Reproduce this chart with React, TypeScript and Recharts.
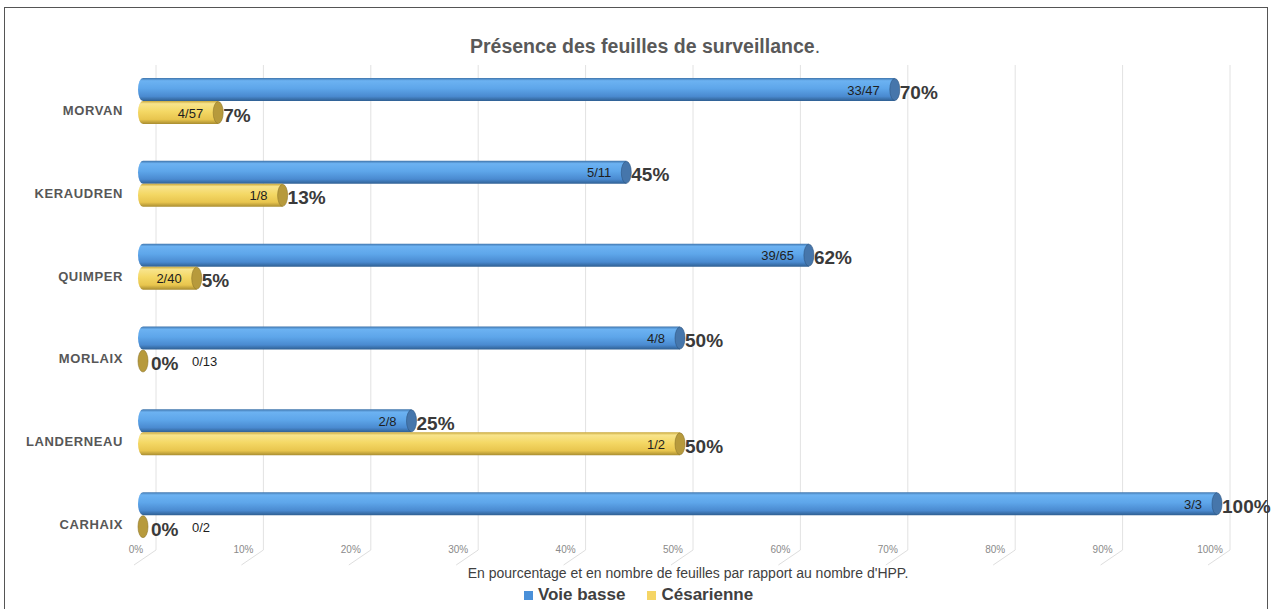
import React from 'react';
import { BarChart, Bar, XAxis, YAxis, CartesianGrid, LabelList } from 'recharts';

// categories + values
const categories = ['MORVAN', 'KERAUDREN', 'QUIMPER', 'MORLAIX', 'LANDERNEAU', 'CARHAIX'];
const voieBasse = [70, 45, 62, 50, 25, 100];
const cesarienne = [7, 13, 5, 0, 50, 0];
const voieBasseCounts = ['33/47', '5/11', '39/65', '4/8', '2/8', '3/3'];
const cesarienneCounts = ['4/57', '1/8', '2/40', '0/13', '1/2', '0/2'];
const xTicks = [0, 10, 20, 30, 40, 50, 60, 70, 80, 90, 100];

const data = categories.map((name, i) => ({
  name,
  vb: voieBasse[i],
  ces: cesarienne[i],
  vbN: voieBasseCounts[i],
  cesN: cesarienneCounts[i],
}));

const FONT = '"Liberation Sans", Arial, Helvetica, sans-serif';
const GRID_SHIFT = 13;

const box = (p: any) => {
  const v = p.viewBox && p.viewBox.width !== undefined ? p.viewBox : p;
  return { x: Number(v.x), y: Number(v.y), w: Number(v.width) || 0, h: Number(v.height) || 0 };
};

const CylinderBar: React.FC<any> = (props) => {
  const { x, y, width, height, gradId, capFill, capStroke } = props;
  const w = Math.max(0, width || 0);
  const ry = height / 2;
  const rx = 5;
  return (
    <g>
      {w > 0 && (
        <path
          d={`M${x},${y} H${x + w} V${y + height} H${x} A${rx},${ry} 0 0 1 ${x},${y} Z`}
          fill={`url(#${gradId})`}
        />
      )}
      <ellipse cx={x + w} cy={y + ry} rx={rx} ry={ry - 0.5} fill={capFill} stroke={capStroke} strokeWidth={0.6} />
    </g>
  );
};

const PctLabel: React.FC<any> = (props) => {
  const { x, y, w, h } = box(props);
  return (
    <text x={x + w + (w > 0 ? 5 : 8)} y={y + h / 2 + 9} fill="#3a3a3a" fontSize={19} fontWeight="bold" fontFamily={FONT}>
      {props.value}%
    </text>
  );
};

const CountLabel: React.FC<any> = (props) => {
  const { x, y, w, h } = box(props);
  const inside = w > 0;
  return (
    <text
      x={inside ? x + w - 15 : x + 49}
      y={y + h / 2 + 5}
      textAnchor={inside ? 'end' : 'start'}
      fill="#1e1e1e"
      fontSize={13}
      fontFamily={FONT}
    >
      {props.value}
    </text>
  );
};

const CatTick: React.FC<any> = ({ x, y, payload }) => (
  <text
    x={x - 20}
    y={y + 13.5}
    textAnchor="end"
    fill="#575757"
    fontSize={13}
    fontWeight="bold"
    letterSpacing={0.6}
    fontFamily={FONT}
  >
    {payload.value}
  </text>
);

const PctTick: React.FC<any> = ({ x, y, payload }) => (
  <g>
    <line x1={x + GRID_SHIFT} y1={y - 7} x2={x - 9} y2={y + 8} stroke="#dedede" strokeWidth={1} />
    <text x={x - 7} y={y - 4} textAnchor="middle" fill="#8a8a8a" fontSize={10} fontFamily={FONT}>
      {payload.value}%
    </text>
  </g>
);

const App: React.FC = () => {
  return (
    <div style={{ position: 'absolute', left: 0, top: 0, width: 1273, height: 609, overflow: 'hidden', background: '#fff', fontFamily: FONT }}>
      <div style={{ position: 'absolute', left: 4, top: 7, width: 1262, height: 640, border: '1px solid #555', background: '#fff' }} />

      <div style={{ position: 'absolute', top: 35, left: 0, width: 1290, textAlign: 'center', fontSize: 19.5, fontWeight: 'bold', color: '#595959' }}>
        Présence des feuilles de surveillance<span style={{ fontWeight: 'normal' }}>.</span>
      </div>

      <div style={{ position: 'absolute', left: 0, top: 0 }}>
        <BarChart
          width={1273}
          height={609}
          data={data}
          layout="vertical"
          margin={{ top: 60, right: 56, left: 0, bottom: 32 }}
          barGap={0}
          barSize={23}
        >
          <defs>
            <linearGradient id="gBlue" x1="0" y1="0" x2="0" y2="1">
              <stop offset="0%" stopColor="#3f74ab" />
              <stop offset="12%" stopColor="#6cb2f2" />
              <stop offset="45%" stopColor="#5ea6ea" />
              <stop offset="80%" stopColor="#4a8ad0" />
              <stop offset="100%" stopColor="#2f5f92" />
            </linearGradient>
            <linearGradient id="gYellow" x1="0" y1="0" x2="0" y2="1">
              <stop offset="0%" stopColor="#c9a83c" />
              <stop offset="12%" stopColor="#f8e48c" />
              <stop offset="45%" stopColor="#f4d865" />
              <stop offset="80%" stopColor="#e8c54e" />
              <stop offset="100%" stopColor="#a88c30" />
            </linearGradient>
          </defs>
          <CartesianGrid
            horizontal={false}
            stroke="#e2e2e2"
            y={65}
            height={485}
            verticalCoordinatesGenerator={(p: any) => {
              const o = p && p.offset ? p.offset : { left: 143, width: 1074 };
              return xTicks.map((t) => o.left + (o.width * t) / 100 + GRID_SHIFT);
            }}
          />
          <XAxis
            type="number"
            domain={[0, 100]}
            ticks={xTicks}
            axisLine={false}
            tickLine={false}
            tickSize={0}
            tickMargin={0}
            height={20}
            tick={<PctTick />}
          />
          <YAxis
            type="category"
            dataKey="name"
            width={143}
            axisLine={false}
            tickLine={false}
            tickSize={0}
            tickMargin={0}
            tick={<CatTick />}
          />
          <Bar
            dataKey="vb"
            isAnimationActive={false}
            shape={<CylinderBar gradId="gBlue" capFill="#4676ab" capStroke="#2d5682" />}
          >
            <LabelList dataKey="vbN" content={<CountLabel />} />
            <LabelList dataKey="vb" content={<PctLabel />} />
          </Bar>
          <Bar
            dataKey="ces"
            isAnimationActive={false}
            shape={<CylinderBar gradId="gYellow" capFill="#b79a3c" capStroke="#8f772b" />}
          >
            <LabelList dataKey="cesN" content={<CountLabel />} />
            <LabelList dataKey="ces" content={<PctLabel />} />
          </Bar>
        </BarChart>
      </div>

      <div style={{ position: 'absolute', top: 565, left: 438, width: 500, textAlign: 'center', fontSize: 14, color: '#404040', whiteSpace: 'nowrap' }}>
        En pourcentage et en nombre de feuilles par rapport au nombre d'HPP.
      </div>

      <div style={{ position: 'absolute', top: 585, left: 0, width: 1277, display: 'flex', justifyContent: 'center', alignItems: 'center', fontSize: 17, fontWeight: 'bold', color: '#404040' }}>
        <span style={{ display: 'inline-block', width: 9, height: 9, background: '#4a90d9', marginRight: 5 }} />
        <span>Voie basse</span>
        <span style={{ display: 'inline-block', width: 9, height: 9, background: '#f5d565', marginLeft: 22, marginRight: 5 }} />
        <span>Césarienne</span>
      </div>
    </div>
  );
};

export default App;
